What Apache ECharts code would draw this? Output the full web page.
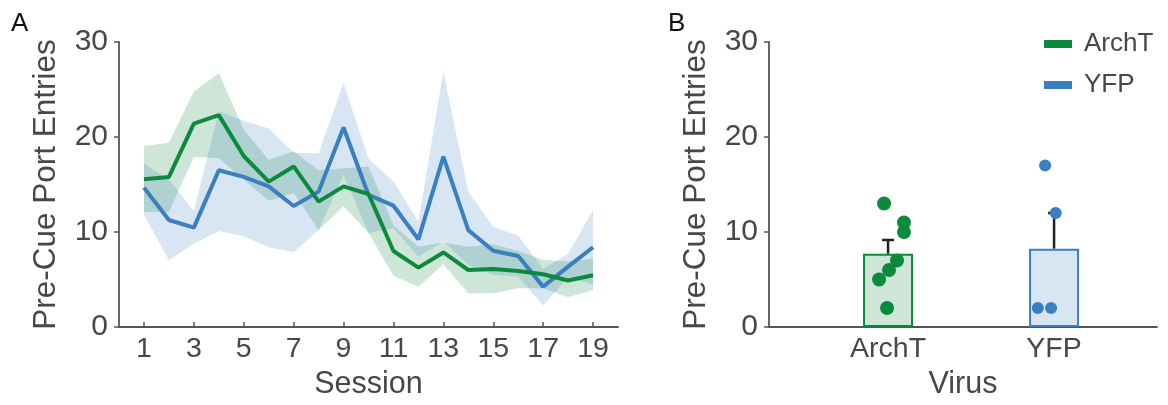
<!DOCTYPE html>
<html>
<head>
<meta charset="utf-8">
<script src="https://cdn.jsdelivr.net/npm/echarts@6/dist/echarts.min.js"></script>
<style>
html,body{margin:0;padding:0;background:#fff;}
#chart{width:1168px;height:405px;}
</style>
</head>
<body>
<div id="chart"></div>
<script>
// ---------- Data ----------
const sessions = [1,2,3,4,5,6,7,8,9,10,11,12,13,14,15,16,17,18,19];
const sessionTicks = [1,3,5,7,9,11,13,15,17,19];

const archtMean  = [15.55,15.8,21.4,22.3,18.0,15.3,16.9,13.2,14.8,14.0,8.0,6.25,7.85,6.0,6.1,5.9,5.55,4.9,5.45];
const archtUpper = [19.05,19.4,24.8,26.7,20.8,17.6,18.5,16.5,16.7,16.9,10.7,8.45,8.9,8.45,8.7,8.0,7.05,6.9,7.2];
const archtLower = [12.07,12.1,17.9,17.8,15.5,13.3,14.1,10.2,12.7,9.9,5.4,4.25,6.6,3.55,3.55,4.07,4.07,3.12,3.9];

const yfpMean  = [14.67,11.26,10.46,16.5,15.8,14.8,12.74,14.25,21.0,13.9,12.77,9.23,17.93,10.2,8.03,7.47,4.25,6.35,8.39];
const yfpUpper = [17.2,15.5,12.2,22.7,21.7,20.9,18.35,18.3,25.65,17.7,15.3,11.1,26.9,14.25,10.56,9.6,6.1,7.7,12.3];
const yfpLower = [11.8,7.05,8.8,10.1,9.55,8.4,7.9,10.2,16.0,9.9,10.4,7.4,9.0,6.5,5.5,5.3,2.3,5.2,4.5];

const groups = ['ArchT','YFP'];
const groupMean = [7.71, 8.25];
const groupSem  = [1.45, 3.75];
const archtPoints = [13,11,10,7,6,5,2];
const archtJitter = [-0.024,0.096,0.096,0.054,0.006,-0.054,-0.006];
const yfpPoints = [17,12,2,2];
const yfpJitter = [-0.054,0.01,-0.098,-0.018];

// ---------- Style ----------
const GREEN = '#0c8a3b';
const BLUE  = '#3a7fc0';
const GREEN_FILL = 'rgba(20,135,65,0.21)';
const BLUE_FILL  = 'rgba(60,125,190,0.2)';
const TXT = '#474747';
const AX = '#555555';
const FONT = '"Liberation Sans", Arial, Helvetica, sans-serif';

const pair = (xs, ys) => xs.map((x,i)=>[x, ys[i]]);

function bandSeries(name, xs, lo, up, fill){
  return {
    type:'custom', name:name, xAxisIndex:0, yAxisIndex:0, z:1, silent:true,
    dimensions:['x','lo','up'], encode:{x:0, y:[1,2]},
    data: xs.map((x,i)=>[x, lo[i], up[i]]),
    renderItem:function(params, api){
      if (params.dataIndex !== 0) return null;
      const top = xs.map((x,i)=>api.coord([x, up[i]]));
      const bot = xs.map((x,i)=>api.coord([x, lo[i]])).reverse();
      return {type:'polygon', shape:{points: top.concat(bot)}, style:{fill:fill}};
    }
  };
}

const chart = echarts.init(document.getElementById('chart'), null, {renderer:'canvas'});

const yAxisCommon = {
  type:'value', min:0, max:30, interval:10,
  name:'Pre-Cue Port Entries', nameLocation:'middle', nameRotate:90, nameGap:57,
  nameTextStyle:{fontSize:31.5, color:TXT, fontFamily:FONT},
  axisLine:{show:true, onZero:false, lineStyle:{color:AX, width:1.8}},
  axisTick:{show:true, inside:false, length:5, lineStyle:{color:AX, width:1.5}},
  axisLabel:{fontSize:30, color:TXT, fontFamily:FONT, margin:11},
  splitLine:{show:false}
};

const option = {
  animation:false,
  backgroundColor:'#fff',
  textStyle:{fontFamily:FONT},
  graphic:[
    {type:'text', left:11, top:11, style:{text:'A', fontSize:26, fill:'#111', fontFamily:FONT}},
    {type:'text', left:668, top:11, style:{text:'B', fontSize:26, fill:'#111', fontFamily:FONT}}
  ],
  legend:{
    orient:'vertical', left:1044, top:31, padding:0,
    itemWidth:28, itemHeight:8, itemGap:15,
    icon:'rect',
    textStyle:{fontSize:26, color:TXT, fontFamily:FONT, padding:[0,0,0,7]},
    selectedMode:false,
    data:[
      {name:'ArchT', icon:'rect', itemStyle:{color:GREEN}},
      {name:'YFP', icon:'rect', itemStyle:{color:BLUE}}
    ]
  },
  grid:[
    {left:119, top:42, width:499, height:285},
    {left:769, top:42, width:388, height:285}
  ],
  xAxis:[
    {
      gridIndex:0, type:'value', min:0, max:20,
      name:'Session', nameLocation:'middle', nameGap:42,
      nameTextStyle:{fontSize:30.5, color:TXT, fontFamily:FONT},
      axisLine:{show:true, onZero:false, lineStyle:{color:AX, width:1.8}},
      axisTick:{show:true, inside:true, length:5, customValues:sessionTicks, lineStyle:{color:AX, width:1.5}},
      axisLabel:{fontSize:28.5, color:TXT, fontFamily:FONT, margin:8, customValues:sessionTicks},
      splitLine:{show:false}
    },
    {
      gridIndex:1, type:'value', min:-0.717, max:1.62,
      name:'Virus', nameLocation:'middle', nameGap:42,
      nameTextStyle:{fontSize:30.5, color:TXT, fontFamily:FONT},
      axisLine:{show:true, onZero:false, lineStyle:{color:AX, width:1.8}},
      axisTick:{show:false},
      axisLabel:{fontSize:28.5, color:TXT, fontFamily:FONT, margin:8, customValues:[0,1],
        formatter:(v)=>groups[Math.round(v)] || ''},
      splitLine:{show:false}
    }
  ],
  yAxis:[
    Object.assign({gridIndex:0}, yAxisCommon),
    Object.assign({gridIndex:1}, yAxisCommon)
  ],
  series:[
    bandSeries('archtBand', sessions, archtLower, archtUpper, GREEN_FILL),
    bandSeries('yfpBand', sessions, yfpLower, yfpUpper, BLUE_FILL),
    // mean lines
    {type:'line', name:'YFP', xAxisIndex:0, yAxisIndex:0, symbol:'none',
     lineStyle:{color:BLUE, width:4}, itemStyle:{color:BLUE}, data:pair(sessions, yfpMean), z:3},
    {type:'line', name:'ArchT', xAxisIndex:0, yAxisIndex:0, symbol:'none',
     lineStyle:{color:GREEN, width:4}, itemStyle:{color:GREEN}, data:pair(sessions, archtMean), z:4},
    // Panel B bars
    {type:'bar', name:'bars', xAxisIndex:1, yAxisIndex:1, barWidth:50, z:2,
     data:[
       {value:[0, groupMean[0]], itemStyle:{color:GREEN_FILL, borderColor:GREEN, borderWidth:2}},
       {value:[1, groupMean[1]], itemStyle:{color:BLUE_FILL, borderColor:BLUE, borderWidth:2}}
     ]},
    // error bars
    {type:'custom', name:'err', xAxisIndex:1, yAxisIndex:1, z:3,
     dimensions:['x','m','e'], encode:{x:0, y:1},
     data:groupMean.map((m,i)=>[i, m, groupSem[i]]),
     renderItem:function(params, api){
       const x = api.value(0), m = api.value(1), e = api.value(2);
       const p0 = api.coord([x, m]);
       const p1 = api.coord([x, m + e]);
       const st = {stroke:'#222', lineWidth:2.5};
       return {type:'group', children:[
         {type:'line', shape:{x1:p0[0], y1:p0[1], x2:p1[0], y2:p1[1]}, style:st},
         {type:'line', shape:{x1:p1[0]-6, y1:p1[1], x2:p1[0]+6, y2:p1[1]}, style:st}
       ]};
     }},
    // dots
    {type:'scatter', name:'archtDots', xAxisIndex:1, yAxisIndex:1, symbolSize:14, z:5,
     itemStyle:{color:GREEN, opacity:1},
     data:archtPoints.map((v,i)=>[0 + archtJitter[i], v])},
    {type:'scatter', name:'yfpDots', xAxisIndex:1, yAxisIndex:1, symbolSize:12, z:5,
     itemStyle:{color:BLUE, opacity:1},
     data:yfpPoints.map((v,i)=>[1 + yfpJitter[i], v])}
  ]
};
chart.setOption(option);
</script>
</body>
</html>
